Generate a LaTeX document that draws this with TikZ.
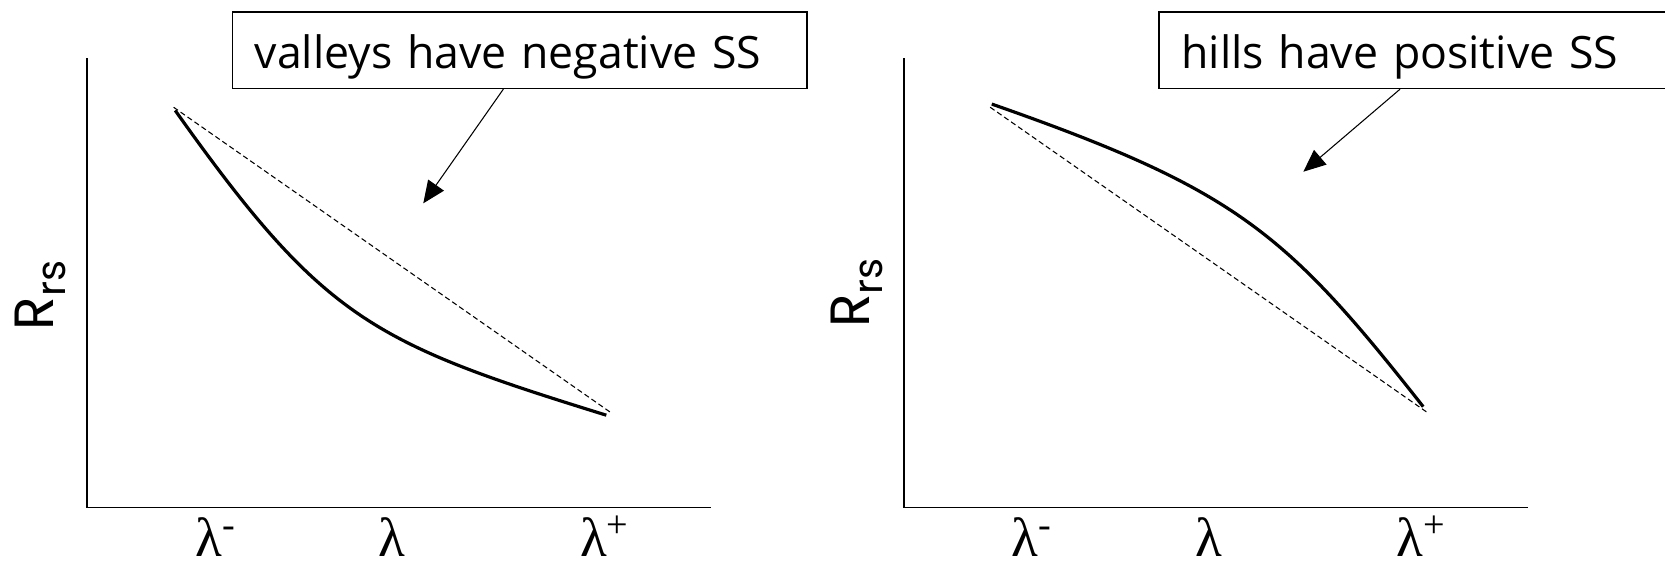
\documentclass[tikz,border=0pt]{standalone}
\usepackage{fontspec}
\setmainfont{Open Sans}
\newfontfamily\lamfont{Liberation Serif}
\newfontfamily\rfont{Poppins}
\usetikzlibrary{arrows.meta}
\newcommand\lsup[1]{\raisebox{9pt}{\fontsize{18}{18}\selectfont #1}}
\newcommand\rsub[1]{\raisebox{-6pt}{\fontsize{19}{19}\selectfont #1}}
\begin{document}
\begin{tikzpicture}[x=0.5pt,y=-0.5pt,
 axis/.style={line width=0.8pt},
 curve/.style={line width=1.5pt},
 chord/.style={line width=0.5pt, dash pattern=on 2.5pt off 1.5pt},
 callout/.style={draw, line width=0.8pt, inner xsep=10.5pt, inner ysep=0pt, text height=26.35pt, text depth=9.45pt, align=left, font=\fontsize{21}{24}\selectfont},
 pointer/.style={line width=0.5pt, -{Triangle[length=10.5pt,width=9pt]}},
 lam/.style={font=\lamfont\fontsize{26}{28}\selectfont, anchor=base west, inner sep=0pt},
 rrs/.style={font=\rfont\fontsize{26}{28}\selectfont, rotate=90, inner sep=0pt}]
\useasboundingbox (0,0) rectangle (1568,536);
\clip (0,0) rectangle (1568,536);

% ---------- left panel ----------
\coordinate (lo) at (82,478);
\coordinate (ltop) at (82,55);
\coordinate (lend) at (670,478);
\draw[axis] (ltop) -- (lo) -- (lend);
\coordinate (la) at (163.5,101);
\coordinate (lb) at (574.5,388);
\draw[chord] (la) -- (lb);
\coordinate (lc0) at (165,104);
\coordinate (lc3) at (571,391);
\draw[curve] (lc0) .. controls (305,301.4) and (351,322.8) .. (lc3);
\node[callout, text width=249.5pt] (lbox) at (489.4,47.4) {valleys have negative SS};
\coordinate (ltip) at (398.6,191.5);
\draw[pointer] ([xshift=-7.7pt]lbox.south) -- (ltip);
\node[lam] (lm1) at (183.6,524) {λ\lsup{-}};
\node[lam] (lm2) at (356,524) {λ};
\node[lam] (lm3) at (546,524) {λ\lsup{+}};
\node[rrs] (ly) at (38,278) {R\rsub{rs}};

% ---------- right panel ----------
\coordinate (ro) at (851,478);
\coordinate (rtop) at (851,55);
\coordinate (rend) at (1439,478);
\draw[axis] (rtop) -- (ro) -- (rend);
\coordinate (ra) at (932.5,101);
\coordinate (rb) at (1343.5,388);
\draw[chord] (ra) -- (rb);
\coordinate (rc0) at (934,98);
\coordinate (rc3) at (1340.3,383);
\draw[curve] (rc0) .. controls (1164,178.5) and (1210.3,217.9) .. (rc3);
\node[callout, text width=228.3pt] (rbox) at (1340.85,47.4) {hills have positive SS};
\coordinate (rtip) at (1227.4,161.7);
\draw[pointer] ([xshift=-11.2pt]rbox.south) -- (rtip);
\node[lam] (rm1) at (952.6,524) {λ\lsup{-}};
\node[lam] (rm2) at (1125,524) {λ};
\node[lam] (rm3) at (1315,524) {λ\lsup{+}};
\node[rrs] (ry) at (807,276) {R\rsub{rs}};
\end{tikzpicture}
\end{document}
